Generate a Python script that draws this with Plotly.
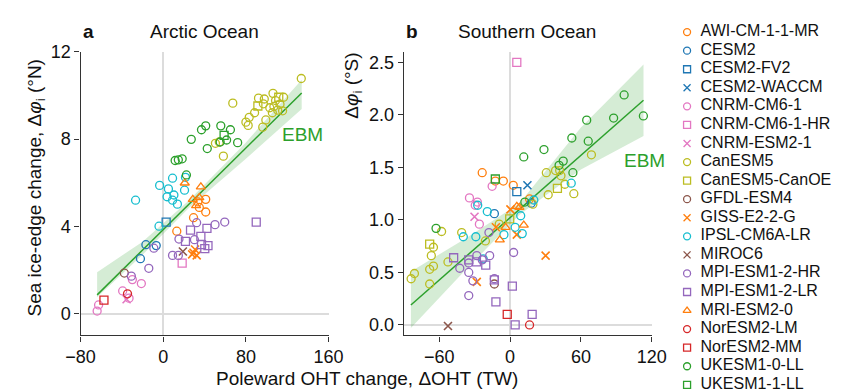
import plotly.graph_objects as go

# ---------------- data ----------------
MODELS = ["AWI-CM-1-1-MR", "CESM2", "CESM2-FV2", "CESM2-WACCM", "CNRM-CM6-1",
          "CNRM-CM6-1-HR", "CNRM-ESM2-1", "CanESM5", "CanESM5-CanOE", "GFDL-ESM4",
          "GISS-E2-2-G", "IPSL-CM6A-LR", "MIROC6", "MPI-ESM1-2-HR", "MPI-ESM1-2-LR",
          "MRI-ESM2-0", "NorESM2-LM", "NorESM2-MM", "UKESM1-0-LL", "UKESM1-1-LL"]

COLORS = {"orange": "#ff7f0e", "blue": "#1f77b4", "pink": "#e377c2", "olive": "#bcbd22",
          "brown": "#8c564b", "cyan": "#17becf", "purple": "#9467bd", "red": "#d62728",
          "green": "#2ca02c"}
MODEL_COLOR = ["orange", "blue", "blue", "blue", "pink", "pink", "pink", "olive", "olive",
               "brown", "orange", "cyan", "brown", "purple", "purple", "orange", "red",
               "red", "green", "green"]
MODEL_SYMBOL = ["circle-open", "circle-open", "square-open", "x-thin-open", "circle-open",
                "square-open", "x-thin-open", "circle-open", "square-open", "circle-open",
                "x-thin-open", "circle-open", "x-thin-open", "circle-open", "square-open",
                "triangle-up-open", "circle-open", "square-open", "circle-open", "square-open"]

# Arctic Ocean: (ΔOHT [TW], Δφ_i [°N])
ARCTIC = {
    "AWI-CM-1-1-MR": [(41.1, 5.24), (41.1, 4.66), (34.9, 4.87), (29.3, 4.40), (13.1, 3.78), (33.5, 5.12)],
    "CESM2": [(-16.8, 3.16), (-6.8, 3.12), (-22.1, 2.52)],
    "CESM2-FV2": [(2.8, 4.20)],
    "CESM2-WACCM": [],
    "CNRM-CM6-1": [(-64.0, 0.12), (-62.6, 0.40), (-39.3, 1.04), (-33.1, 0.71), (-21.2, 1.38), (-29.9, 1.56)],
    "CNRM-CM6-1-HR": [(18.3, 2.32)],
    "CNRM-ESM2-1": [(-35.5, 0.66)],
    "CanESM5": [(133.6, 10.78), (67.3, 9.65), (106.2, 10.10), (92.2, 9.88), (97.8, 9.84),
                (116.5, 9.92), (108.7, 9.77), (96.9, 9.62), (103.1, 9.44),
                (83.2, 9.00), (80.0, 8.78), (82.2, 8.63), (88.4, 9.21), (96.3, 8.55), (99.3, 8.88),
                (105.6, 9.21), (110.8, 9.33), (115.5, 9.30), (50.5, 7.81), (54.2, 7.87), (58.2, 7.22),
                (107.1, 9.50), (113.0, 9.60)],
    "CanESM5-CanOE": [(91.6, 9.52), (111.8, 9.92)],
    "GFDL-ESM4": [(-37.7, 1.86)],
    "GISS-E2-2-G": [(29.3, 2.79), (32.4, 2.67), (30.8, 2.94), (28.0, 2.72)],
    "IPSL-CM6A-LR": [(-26.8, 5.20), (-3.5, 5.88), (9.0, 6.21), (5.0, 5.72), (10.3, 5.44), (3.7, 5.36),
                     (9.0, 5.20), (13.7, 5.02), (20.6, 5.66), (21.5, 6.25), (-4.1, 4.01)],
    "MIROC6": [(19.0, 2.85)],
    "MPI-ESM1-2-HR": [(-9.1, 3.00), (-14.0, 2.08), (-30.9, 1.72), (9.0, 2.67), (14.6, 2.67), (15.2, 3.42),
                      (30.2, 3.39), (32.3, 4.17), (50.1, 4.08), (59.5, 4.20)],
    "MPI-ESM1-2-LR": [(90.0, 4.20), (26.4, 3.83), (42.3, 3.91), (36.4, 3.54), (21.5, 3.31), (37.0, 3.16),
                      (43.3, 3.12), (40.2, 2.98)],
    "MRI-ESM2-0": [(20.8, 5.99), (36.4, 5.81), (28.6, 5.24), (34.9, 5.32), (31.8, 4.95)],
    "NorESM2-LM": [(-34.6, 0.91)],
    "NorESM2-MM": [(-57.4, 0.62)],
    "UKESM1-0-LL": [(11.5, 7.02), (14.6, 7.05), (18.3, 7.10), (22.4, 6.36), (27.1, 7.99), (37.0, 8.43),
                    (41.1, 8.61), (42.6, 7.57), (55.7, 8.61), (65.0, 8.43), (61.3, 7.96), (55.1, 7.87),
                    (72.0, 7.84)],
    "UKESM1-1-LL": [(58.9, 8.17)],
}

# Southern Ocean: (ΔOHT [TW], Δφ_i [°S])
SOUTHERN = {
    "AWI-CM-1-1-MR": [(-23.6, 1.45), (-12.5, 1.37), (-5.7, 1.37), (2.7, 1.33), (16.5, 1.20)],
    "CESM2": [(-13.3, 1.06), (17.9, 1.16)],
    "CESM2-FV2": [(5.7, 1.27)],
    "CESM2-WACCM": [(14.7, 1.33)],
    "CNRM-CM6-1": [(-34.4, 1.21), (-29.5, 1.14), (-27.7, 1.17), (-26.0, 0.96), (-15.2, 1.32)],
    "CNRM-CM6-1-HR": [(5.7, 2.50)],
    "CNRM-ESM2-1": [(-30.1, 1.03)],
    "CanESM5": [(-83.8, 0.44), (-81.0, 0.49), (-68.1, 0.39), (-68.1, 0.53), (-64.9, 0.56), (-66.7, 0.66),
                (-64.9, 0.74), (-58.0, 0.89), (-52.6, 0.60), (-41.0, 0.88), (-20.9, 0.80), (-9.2, 0.96),
                (30.7, 1.45), (32.3, 1.24), (38.5, 1.47), (42.0, 1.47), (46.4, 1.34), (54.0, 1.25),
                (68.9, 1.62), (43.1, 1.42), (19.3, 1.15)],
    "CanESM5-CanOE": [(-68.1, 0.77), (-0.3, 1.01), (40.1, 1.30)],
    "GFDL-ESM4": [(-13.3, 0.39)],
    "GISS-E2-2-G": [(30.1, 0.66), (-28.2, 0.41), (-12.0, 0.93), (0.3, 1.10), (5.7, 0.86)],
    "IPSL-CM6A-LR": [(-39.6, 0.84), (-29.0, 0.84), (-27.4, 1.14), (-19.3, 1.08), (-5.2, 0.86), (4.3, 0.93),
                     (9.0, 1.04), (10.3, 0.87), (20.1, 1.19), (51.8, 1.35), (-22.8, 0.63)],
    "MIROC6": [(-52.6, -0.01)],
    "MPI-ESM1-2-HR": [(-17.9, 0.88), (-28.2, 0.66), (-17.3, 0.66), (-23.6, 0.62), (-35.0, 0.59),
                      (-42.6, 0.54), (-35.0, 0.50), (-31.5, 0.42), (-35.0, 0.28), (-13.3, 0.44), (3.0, 0.69)],
    "MPI-ESM1-2-LR": [(-47.8, 0.64), (-35.0, 0.62), (-28.5, 0.60), (-20.6, 0.57), (-13.3, 0.43),
                      (-12.0, 0.22), (1.9, 0.37), (18.7, 0.10), (4.3, 0.00)],
    "MRI-ESM2-0": [(-8.7, 0.81), (-3.8, 0.93), (11.6, 0.95), (5.7, 1.13), (7.9, 1.12)],
    "NorESM2-LM": [(16.5, 0.00)],
    "NorESM2-MM": [(-2.4, 0.10)],
    "UKESM1-0-LL": [(96.6, 2.19), (112.9, 1.99), (87.7, 1.97), (64.9, 1.95), (66.2, 1.75), (52.3, 1.78),
                    (28.7, 1.67), (11.6, 1.60), (41.5, 1.52), (45.0, 1.56), (53.2, 1.45), (-62.7, 0.92),
                    (12.5, 1.17)],
    "UKESM1-1-LL": [(-12.5, 1.39)],
}

# EBM fit lines and shaded ranges
ARCTIC_FIT_X = [-64, 134]
ARCTIC_FIT_Y = [0.86, 10.12]
ARCTIC_BAND_X = [-64, -20, 25, 80, 134]
ARCTIC_BAND_LO = [0.75, 2.70, 4.85, 7.10, 9.38]
ARCTIC_BAND_HI = [1.90, 3.30, 5.20, 7.85, 10.72]

SOUTH_FIT_X = [-84, 113]
SOUTH_FIT_Y = [0.19, 2.14]
SOUTH_BAND_X = [-84, -38, 8, 60, 113]
SOUTH_BAND_LO = [-0.03, 0.52, 1.05, 1.48, 1.80]
SOUTH_BAND_HI = [0.51, 0.82, 1.16, 1.88, 2.48]

W, H = 852, 391
FONT = "Liberation Sans, Arial, Helvetica, sans-serif"
GREEN = COLORS["green"]

fig = go.Figure()

def add_panel(points, fx, fy, bx, blo, bhi, xa, ya):
    fig.add_trace(go.Scatter(x=bx, y=blo, mode="lines", line=dict(width=0), hoverinfo="skip",
                             showlegend=False, xaxis=xa, yaxis=ya))
    fig.add_trace(go.Scatter(x=bx, y=bhi, mode="lines", line=dict(width=0), fill="tonexty",
                             fillcolor="rgba(44,160,44,0.2)", hoverinfo="skip",
                             showlegend=False, xaxis=xa, yaxis=ya))
    fig.add_trace(go.Scatter(x=fx, y=fy, mode="lines", line=dict(color=GREEN, width=1.5),
                             showlegend=False, xaxis=xa, yaxis=ya))
    for i, m in enumerate(MODELS):
        pts = points[m]
        if not pts:
            continue
        sym = MODEL_SYMBOL[i]
        lw = 1.6 if sym.startswith("x") else 1.3
        fig.add_trace(go.Scatter(
            x=[p[0] for p in pts], y=[p[1] for p in pts], mode="markers", name=m,
            marker=dict(symbol=sym, size=8, color=COLORS[MODEL_COLOR[i]],
                        line=dict(width=lw, color=COLORS[MODEL_COLOR[i]])),
            showlegend=False, xaxis=xa, yaxis=ya))

add_panel(ARCTIC, ARCTIC_FIT_X, ARCTIC_FIT_Y, ARCTIC_BAND_X, ARCTIC_BAND_LO, ARCTIC_BAND_HI, "x", "y")
add_panel(SOUTHERN, SOUTH_FIT_X, SOUTH_FIT_Y, SOUTH_BAND_X, SOUTH_BAND_LO, SOUTH_BAND_HI, "x2", "y2")

# custom legend (own hidden axis so rows can be spaced like the original)
for i, m in enumerate(MODELS):
    sym = MODEL_SYMBOL[i]
    fig.add_trace(go.Scatter(
        x=[15], y=[i], mode="markers",
        marker=dict(symbol=sym, size=7, color=COLORS[MODEL_COLOR[i]],
                    line=dict(width=1.3, color=COLORS[MODEL_COLOR[i]])),
        showlegend=False, hoverinfo="skip", xaxis="x3", yaxis="y3"))
fig.add_trace(go.Scatter(
    x=[29] * len(MODELS), y=list(range(len(MODELS))), mode="text", text=MODELS,
    textposition="middle right", textfont=dict(size=16, color="#111", family=FONT),
    showlegend=False, hoverinfo="skip", xaxis="x3", yaxis="y3"))

def px(xp):
    return xp / W

def py(yp):
    return 1 - yp / H

ax_common = dict(showline=True, linecolor="#333", linewidth=1.4, ticks="outside", ticklen=5,
                 tickwidth=1.4, tickcolor="#333", showgrid=False, zeroline=True,
                 zerolinecolor="#dcdcdc", zerolinewidth=1.5,
                 tickfont=dict(size=18, color="#111", family=FONT))

fig.update_layout(
    width=W, height=H, margin=dict(l=0, r=0, t=0, b=0),
    paper_bgcolor="white", plot_bgcolor="white",
    font=dict(family=FONT, color="#111"),
    showlegend=False,
    xaxis=dict(domain=[px(68), px(325)], range=[-80, 160], tickvals=[-80, 0, 80, 160],
               anchor="y", **ax_common),
    yaxis=dict(domain=[py(334), py(43)], range=[-1, 12], tickvals=[0, 4, 8, 12],
               anchor="x", **ax_common),
    xaxis2=dict(domain=[px(403), px(660)], range=[-90, 120], tickvals=[-60, 0, 60, 120],
                anchor="y2", **ax_common),
    yaxis2=dict(domain=[py(334), py(43)], range=[-0.1, 2.6], tickvals=[0, 0.5, 1, 1.5, 2, 2.5],
                tickformat=".1f", anchor="x2", **ax_common),
    xaxis3=dict(domain=[0.8, 1.0], range=[0, 0.2 * W], visible=False, anchor="y3"),
    yaxis3=dict(domain=[0, 1], range=[(H - 22.7) / 19.05, -22.7 / 19.05], visible=False, anchor="x3"),
)

ann = [
    dict(text="<b>a</b>", x=px(68), y=py(22), xanchor="left", font=dict(size=19)),
    dict(text="Arctic Ocean", x=px(196), y=py(22), xanchor="center", font=dict(size=19)),
    dict(text="<b>b</b>", x=px(403), y=py(22), xanchor="left", font=dict(size=19)),
    dict(text="Southern Ocean", x=px(531), y=py(22), xanchor="center", font=dict(size=19)),
    dict(text="Sea ice-edge change, Δ<i>φ</i><sub>i</sub> (°N)", x=px(22), y=py(183),
         xanchor="center", textangle=-90, font=dict(size=19)),
    dict(text="Δ<i>φ</i><sub>i</sub> (°S)", x=px(350), y=py(78), xanchor="center",
         textangle=-90, font=dict(size=19)),
    dict(text="Poleward OHT change, ΔOHT (TW)", x=px(365), y=py(378), xanchor="center",
         font=dict(size=19)),
]
for a in ann:
    fig.add_annotation(xref="paper", yref="paper", yanchor="middle", showarrow=False, **a)

fig.add_annotation(text="EBM", x=113.4, y=8.23, xref="x", yref="y", xanchor="left",
                   yanchor="middle", showarrow=False, font=dict(size=19, color=GREEN))
fig.add_annotation(text="EBM", x=95, y=1.57, xref="x2", yref="y2", xanchor="left",
                   yanchor="middle", showarrow=False, font=dict(size=19, color=GREEN))

fig.write_html("out.html")
